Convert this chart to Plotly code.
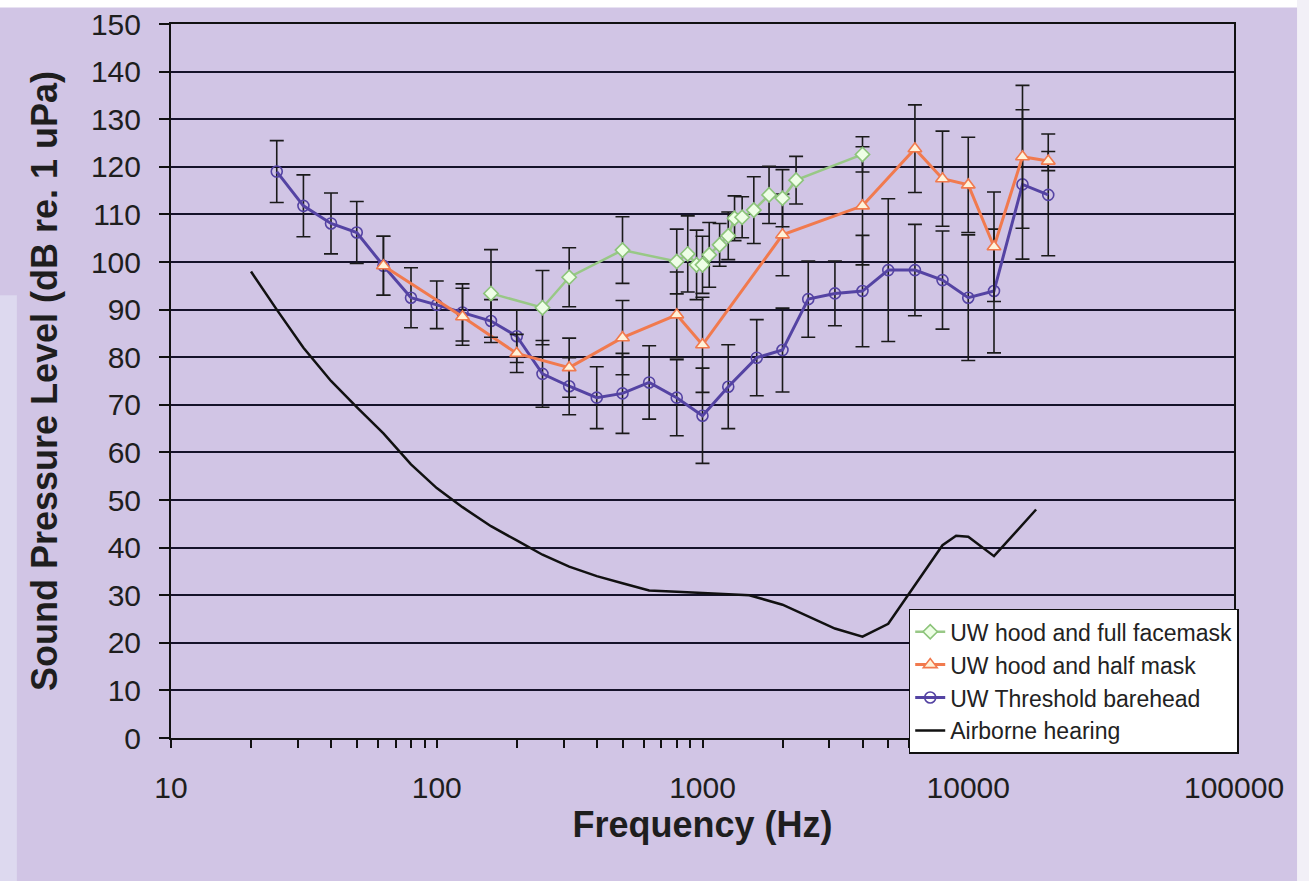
import plotly.graph_objects as go

# ---------------- data ----------------
freq_full = [160, 250, 315, 500, 800, 880, 950, 1000, 1060, 1160, 1250, 1320, 1410, 1560, 1780, 2000, 2250, 4000]
spl_full = [93.4, 90.4, 96.8, 102.5, 100.1, 101.7, 99.4, 99.4, 101.5, 103.6, 105.5, 109.2, 109.4, 110.9, 114.1, 113.4, 117.2, 122.6]
err_full = [9.2, 7.8, 6.2, 7.0, 6.8, 8.0, 7.3, 6.0, 6.8, 4.5, 5.0, 4.7, 4.3, 7.0, 6.0, 6.0, 5.0, 3.7]

freq_half = [63, 125, 200, 315, 500, 800, 1000, 2000, 4000, 6300, 8000, 10000, 12500, 16000, 20000]
spl_half = [99.2, 88.5, 80.8, 77.8, 84.1, 88.9, 82.6, 105.7, 111.8, 123.8, 117.5, 116.2, 103.2, 122.1, 121.2]
err_half = [6.2, 6.0, 4.0, 6.2, 7.8, 9.0, 10.0, 8.6, 12.4, 9.2, 10.0, 10.0, 11.5, 15.0, 2.0]

freq_bare = [25, 31.5, 40, 50, 63, 80, 100, 125, 160, 200, 250, 315, 400, 500, 630, 800, 1000,
             1250, 1600, 2000, 2500, 3150, 4000, 5000, 6300, 8000, 10000, 12500, 16000, 20000]
spl_bare = [119.0, 111.8, 108.1, 106.2, 99.2, 92.5, 91.0, 89.4, 87.6, 84.4, 76.5, 73.9, 71.5, 72.4, 74.7, 71.5, 67.7,
            73.8, 79.9, 81.5, 92.2, 93.4, 93.9, 98.3, 98.3, 96.2, 92.5, 93.9, 116.3, 114.1]
err_bare = [6.5, 6.5, 6.4, 6.5, 6.2, 6.3, 5.0, 6.0, 4.5, 5.5, 7.0, 6.0, 6.5, 8.4, 7.7, 8.0, 10.0,
            8.8, 8.0, 8.8, 8.0, 6.8, 11.7, 15.0, 9.6, 10.3, 13.2, 13.0, 15.7, 12.8]

freq_air = [20, 25, 31.5, 40, 50, 63, 80, 100, 125, 160, 200, 250, 315, 400, 500, 630, 800, 1000,
            1500, 2000, 3150, 4000, 5000, 8000, 9000, 10000, 12500, 18000]
spl_air = [98, 90, 82, 75, 69.5, 64, 57.5, 52.5, 48.5, 44.5, 41.5, 38.5, 36, 34, 32.5, 31, 30.7, 30.4,
           30.0, 28, 23, 21.3, 24, 40.5, 42.5, 42.3, 38.2, 48]

x_tickvals = [10, 100, 1000, 10000, 100000]
x_ticktext = ["10", "100", "1000", "10000", "100000"]
y_tickvals = list(range(0, 151, 10))

names = ["UW hood and full facemask", "UW hood and half mask", "UW Threshold barehead", "Airborne hearing"]

BG = "#d1c5e5"
FONT = "Liberation Sans, Arial, sans-serif"

fig = go.Figure()

err_style = dict(type="data", color="#1a1a1a", thickness=1.6, width=7)

fig.add_trace(go.Scatter(
    x=freq_air, y=spl_air, mode="lines", name=names[3], legendrank=4,
    line=dict(color="#111111", width=2.5)))

fig.add_trace(go.Scatter(
    x=freq_bare, y=spl_bare, mode="lines+markers", name=names[2], legendrank=3,
    line=dict(color="#5443a3", width=3),
    marker=dict(symbol="circle-open", size=11, color="#5443a3", line=dict(width=1.6)),
    error_y=dict(array=err_bare, **err_style)))

fig.add_trace(go.Scatter(
    x=freq_half, y=spl_half, mode="lines+markers", name=names[1], legendrank=2,
    line=dict(color="#f17a4e", width=3),
    marker=dict(symbol="triangle-up", size=12, color="#fff2d8", line=dict(color="#f17a4e", width=1.6)),
    error_y=dict(array=err_half, **err_style)))

fig.add_trace(go.Scatter(
    x=freq_full, y=spl_full, mode="lines+markers", name=names[0], legendrank=1,
    line=dict(color="#98c886", width=2.5),
    marker=dict(symbol="diamond", size=11, color="#eefee6", line=dict(color="#8cc47a", width=1.6)),
    error_y=dict(array=err_full, **err_style)))

fig.update_layout(
    width=1309, height=881,
    margin=dict(l=171, r=75, t=24, b=143, autoexpand=False),
    paper_bgcolor=BG, plot_bgcolor=BG,
    font=dict(family=FONT, color="#1e1e1e"),
    showlegend=True,
    legend=dict(
        x=0.694, y=0.181, xanchor="left", yanchor="top",
        bgcolor="white", bordercolor="#111111", borderwidth=1.5,
        font=dict(size=23, family=FONT, color="#222222"),
        traceorder="normal",
    ),
    shapes=[
        dict(type="rect", xref="paper", yref="paper", x0=-0.2, x1=1.1, y0=1.0231, y1=1.05,
             fillcolor="white", line=dict(width=0), layer="above"),
        dict(type="rect", xref="paper", yref="paper", x0=1.0593, x1=1.1, y0=-0.25, y1=1.05,
             fillcolor="#f2f0f7", line=dict(width=0), layer="above"),
        dict(type="rect", xref="paper", yref="paper", x0=-0.2, x1=-0.145, y0=-0.25, y1=0.62,
             fillcolor="rgba(236,242,250,0.45)", line=dict(width=0), layer="above"),
    ],
)

fig.update_xaxes(
    type="log", range=[1, 5],
    tickvals=x_tickvals, ticktext=x_ticktext,
    ticks="outside", ticklen=8, tickwidth=1.5, tickcolor="#111111",
    tickfont=dict(size=30, family=FONT, color="#1e1e1e"),
    ticklabelstandoff=14,
    minor=dict(ticks="outside", ticklen=8, tickwidth=1.5, tickcolor="#111111", dtick="D1", showgrid=False),
    showline=True, linecolor="#111111", linewidth=2, mirror=True,
    showgrid=False, zeroline=False,
    title=dict(text="<b>Frequency (Hz)</b>", font=dict(size=36, family=FONT, color="#1e1e1e"), standoff=6),
)

fig.update_yaxes(
    range=[0, 150], tickvals=y_tickvals,
    ticks="outside", ticklen=10, tickwidth=1.5, tickcolor="#111111",
    tickfont=dict(size=30, family=FONT, color="#1e1e1e"),
    ticklabelstandoff=12,
    showline=True, linecolor="#111111", linewidth=2, mirror=True,
    showgrid=True, gridcolor="#15122a", gridwidth=1.8, zeroline=False,
    title=dict(text="<b>Sound Pressure Level (dB re. 1 uPa)</b>", font=dict(size=36, family=FONT, color="#1e1e1e"), standoff=22),
)

fig.write_html("out.html")
